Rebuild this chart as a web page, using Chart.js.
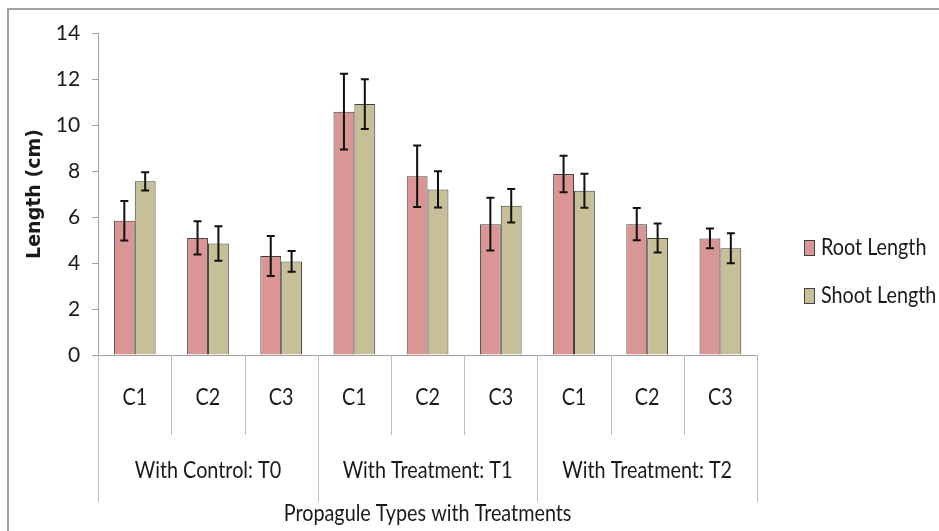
<!DOCTYPE html>
<html>
<head>
<meta charset="utf-8">
<script src="https://cdn.jsdelivr.net/npm/chart.js@4.4.0/dist/chart.umd.min.js"></script>
<style>
  html, body { margin: 0; padding: 0; background: #fff; }
  #wrap { position: relative; width: 939px; height: 531px; }
</style>
</head>
<body>
<div id="wrap"><canvas id="chart" width="939" height="531"></canvas></div>
<script>
// Data
const categories = ['C1', 'C2', 'C3', 'C1', 'C2', 'C3', 'C1', 'C2', 'C3'];
const groups = ['With Control: T0', 'With Treatment: T1', 'With Treatment: T2'];
const rootLength = [5.84, 5.09, 4.30, 10.58, 7.77, 5.69, 7.87, 5.69, 5.07];
const rootError = [0.86, 0.72, 0.87, 1.65, 1.34, 1.15, 0.79, 0.70, 0.43];
const shootLength = [7.55, 4.85, 4.07, 10.91, 7.20, 6.49, 7.14, 5.09, 4.64];
const shootError = [0.40, 0.75, 0.45, 1.08, 0.79, 0.73, 0.74, 0.63, 0.65];
const yTicks = [0, 2, 4, 6, 8, 10, 12, 14];

const FONT = "Lato, 'Open Sans', sans-serif";
const TEXT = '#1a1a1a';
const GRID = '#bdbdbd';

// narrow-looking text (reference uses a condensed face)
function narrowText(c, str, x, y, size, align) {
    c.save();
    c.translate(x, y);
    c.scale(0.86, 1);
    c.font = size + 'px ' + FONT;
    c.textAlign = align || 'center';
    c.textBaseline = 'middle';
    c.fillText(str, 0, 0);
    c.restore();
}

// Frame around the whole picture
const framePlugin = {
    id: 'frame',
    beforeDraw(chart) {
        const c = chart.ctx;
        c.save();
        c.fillStyle = '#fff';
        c.fillRect(0, 0, chart.width, chart.height);
        c.strokeStyle = '#a0a0a0';
        c.lineWidth = 2;
        c.strokeRect(8, 9, chart.width + 10, chart.height + 10);
        c.restore();
    }
};

// Error bars from the scales
const errorBarPlugin = {
    id: 'errorBars',
    afterDatasetsDraw(chart) {
        const c = chart.ctx;
        const y = chart.scales.y;
        c.save();
        c.strokeStyle = '#111';
        c.lineWidth = 2;
        chart.data.datasets.forEach((ds, i) => {
            const meta = chart.getDatasetMeta(i);
            meta.data.forEach((bar, j) => {
                const v = ds.data[j], e = ds.errors[j];
                const top = y.getPixelForValue(v + e);
                const bot = y.getPixelForValue(v - e);
                c.beginPath();
                c.moveTo(bar.x, top); c.lineTo(bar.x, bot);
                c.moveTo(bar.x - 4, top); c.lineTo(bar.x + 4, top);
                c.moveTo(bar.x - 4, bot); c.lineTo(bar.x + 4, bot);
                c.stroke();
            });
        });
        c.restore();
    }
};

// Two-level category axis, axis title and legend
const groupAxisPlugin = {
    id: 'groupAxis',
    afterDraw(chart) {
        const c = chart.ctx;
        const x = chart.scales.x;
        const base = chart.chartArea.bottom;
        const half = (x.getPixelForValue(1) - x.getPixelForValue(0)) / 2;
        c.save();
        c.strokeStyle = GRID;
        c.lineWidth = 1;
        for (let k = 0; k <= categories.length; k++) {
            const px = Math.round(x.getPixelForValue(k) - half) + 0.5;
            c.beginPath();
            c.moveTo(px, base);
            c.lineTo(px, k % 3 === 0 ? 502 : 435);
            c.stroke();
        }
        c.fillStyle = TEXT;
        categories.forEach((name, k) => {
            narrowText(c, name, x.getPixelForValue(k), 398, 23);
        });
        groups.forEach((name, g) => {
            narrowText(c, name, x.getPixelForValue(g * 3 + 1), 471, 23);
        });
        narrowText(c, 'Propagule Types with Treatments', (x.left + x.right) / 2, 514, 23);

        // legend
        chart.data.datasets.forEach((ds, i) => {
            const ly = 248 + i * 48;
            c.fillStyle = ds.backgroundColor;
            c.fillRect(804, ly - 8, 11, 16);
            c.strokeStyle = '#404040';
            c.strokeRect(804.5, ly - 7.5, 10, 15);
            c.fillStyle = TEXT;
            narrowText(c, ds.label, 821, ly, 23, 'left');
        });
        c.restore();
    }
};

const ctx = document.getElementById('chart').getContext('2d');
const lengthChart = new Chart(ctx, {
    type: 'bar',
    data: {
        labels: categories,
        datasets: [{
            label: 'Root Length',
            data: rootLength,
            errors: rootError,
            backgroundColor: '#da9694',
            borderColor: '#404040',
            borderWidth: 1
        }, {
            label: 'Shoot Length',
            data: shootLength,
            errors: shootError,
            backgroundColor: '#c6bf97',
            borderColor: '#404040',
            borderWidth: 1
        }]
    },
    options: {
        responsive: false,
        animation: false,
        categoryPercentage: 0.57,
        barPercentage: 1.0,
        layout: { padding: { left: 24, top: 33, right: 182, bottom: 168 } },
        plugins: {
            legend: { display: false },
            tooltip: { enabled: false }
        },
        scales: {
            x: {
                grid: { display: false },
                border: { display: true, color: '#a0a0a0' },
                ticks: { display: false }
            },
            y: {
                min: 0,
                max: 14,
                afterBuildTicks(scale) {
                    scale.ticks = yTicks.map(v => ({ value: v }));
                },
                grid: {
                    drawOnChartArea: false,
                    tickLength: 6,
                    color: '#a0a0a0'
                },
                border: { color: '#a0a0a0' },
                ticks: {
                    color: TEXT,
                    font: { family: FONT, size: 21 },
                    padding: 12
                },
                title: {
                    display: true,
                    text: 'Length (cm)',
                    color: TEXT,
                    font: { family: "'DejaVu Sans', sans-serif", size: 19, weight: 'bold' },
                    padding: { top: 0, bottom: -3 }
                }
            }
        }
    },
    plugins: [framePlugin, errorBarPlugin, groupAxisPlugin]
});
</script>
</body>
</html>
